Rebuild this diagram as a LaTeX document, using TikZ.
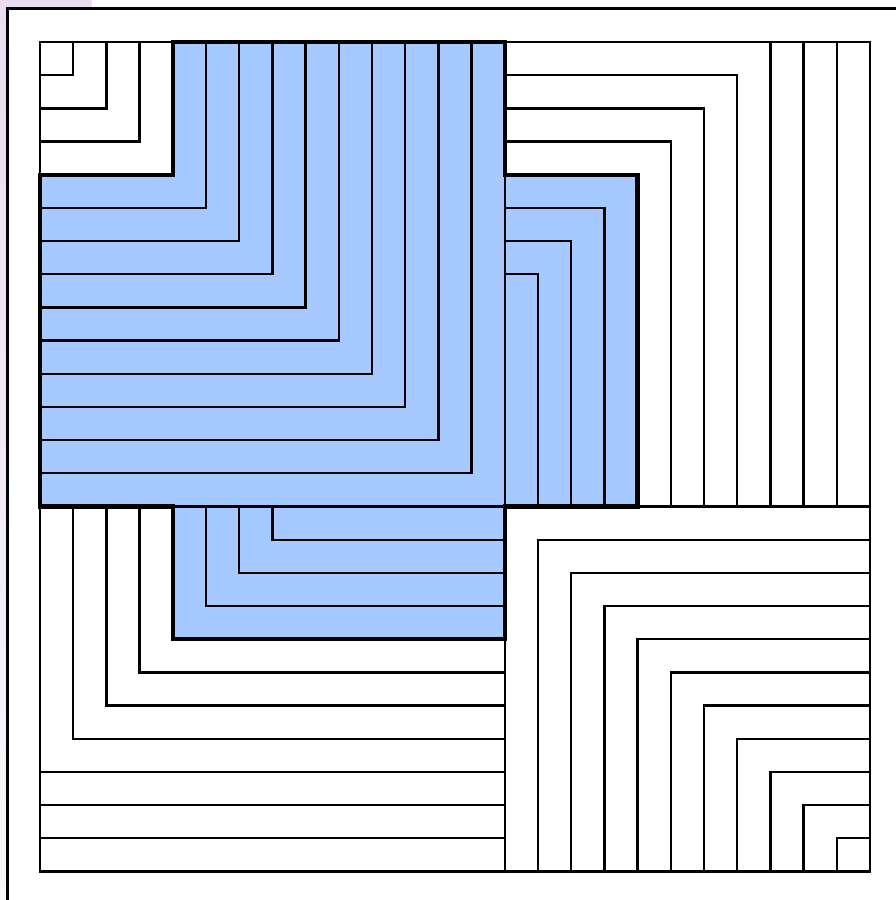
\documentclass[tikz,border=0pt]{standalone}
\definecolor{crossblue}{RGB}{166,202,255}
\definecolor{lav}{RGB}{232,220,238}
\definecolor{lavlight}{RGB}{249,247,251}
\tikzset{
  thinline/.style={line width=2.3pt, line join=miter, line cap=rect},
  thickline/.style={line width=4.3pt, line join=miter},
  framestyle/.style={line width=2.3pt},
}
\begin{document}
\begin{tikzpicture}[x=1pt,y=1pt]
\useasboundingbox (0,0) rectangle (896,900);
\fill[white] (0,0) rectangle (896,900);
% faint lavender strips
\fill[lav] (0,892.5) rectangle (92,900);
\shade[top color=lav, bottom color=lavlight] (0,0) rectangle (6.5,900);
% outer frame (cut by the picture edge)
\draw[framestyle] (7.5,0) -- (7.5,891.5) -- (896,891.5);
\begin{scope}[shift={(40,858)}, x=33.2pt, y=-33.18pt]
  % cross
  \fill[crossblue] (4,0) -- (14,0) -- (14,4) -- (18,4) -- (18,14) -- (14,14) -- (14,18) -- (4,18) -- (4,14) -- (0,14) -- (0,4) -- (4,4) -- cycle;
  % top-left quadrant
  \foreach \k in {1,...,13} {\draw[thinline] (0,\k) -- (\k,\k) -- (\k,0);}
  % top-right quadrant
  \foreach \k in {1,...,7} {\draw[thinline] (14,\k) -- ({22-\k},\k) -- ({22-\k},14);}
  \foreach \i in {22,23,24} {\draw[thinline] (\i,0) -- (\i,14);}
  % bottom-left quadrant
  \foreach \k in {1,...,7} {\draw[thinline] (\k,14) -- (\k,{22-\k}) -- (14,{22-\k});}
  \foreach \j in {22,23,24} {\draw[thinline] (0,\j) -- (14,\j);}
  % bottom-right quadrant
  \foreach \k in {1,...,10} {\draw[thinline] ({14+\k},25) -- ({14+\k},{14+\k}) -- (25,{14+\k});}
  % dividers and border
  \draw[thinline] (14,0) -- (14,25);
  \draw[thinline] (0,14) -- (25,14);
  \draw[thinline] (0,0) rectangle (25,25);
  % cross outline
  \draw[thickline] (4,0) -- (14,0) -- (14,4) -- (18,4) -- (18,14) -- (14,14) -- (14,18) -- (4,18) -- (4,14) -- (0,14) -- (0,4) -- (4,4) -- cycle;
\end{scope}
\end{tikzpicture}
\end{document}
